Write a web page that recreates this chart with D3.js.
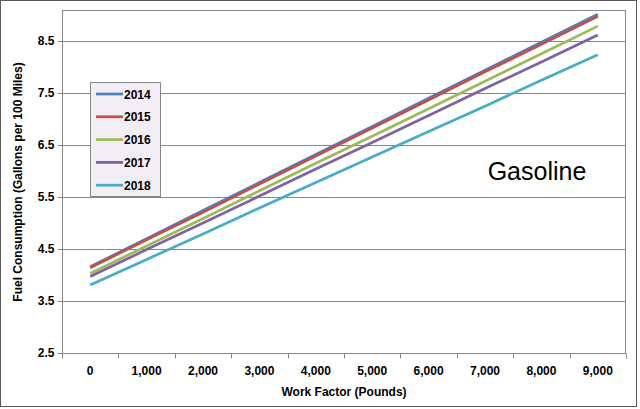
<!DOCTYPE html>
<html><head><meta charset="utf-8">
<script src="https://cdn.jsdelivr.net/npm/d3@7"></script>
<style>body{margin:0;background:#fff}svg{display:block;font-family:Arial,"Liberation Sans",sans-serif}</style>
</head><body>
<script>
const categories = ["0","1,000","2,000","3,000","4,000","5,000","6,000","7,000","8,000","9,000"];
const seriesNames = ["2014","2015","2016","2017","2018"];
const s2014 = [4.16,4.70,5.24,5.78,6.32,6.86,7.40,7.94,8.48,9.02];
const s2015 = [4.14,4.68,5.21,5.75,6.29,6.83,7.37,7.91,8.44,8.98];
const s2016 = [4.03,4.56,5.09,5.62,6.15,6.67,7.20,7.73,8.26,8.79];
const s2017 = [3.97,4.49,5.00,5.52,6.04,6.55,7.07,7.59,8.10,8.62];
const s2018 = [3.81,4.30,4.79,5.29,5.78,6.27,6.76,7.25,7.75,8.24];
const yTicks = [2.5,3.5,4.5,5.5,6.5,7.5,8.5];
const colors = ["#4F81BD","#C0504D","#9BBB59","#8064A2","#4BACC6"];
const allSeries = [s2014,s2015,s2016,s2017,s2018];

const W=640,H=409;
const svg=d3.select("body").append("svg").attr("width",W).attr("height",H);
svg.append("rect").attr("x",0.5).attr("y",0.5).attr("width",636).attr("height",406)
  .attr("fill","#fff").attr("stroke","#5a5a5a");

const L=62,R=626,T=10,B=353;
const x=d3.scaleBand().domain(categories).range([L,R]).padding(0);
const y=d3.scaleLinear().domain([2.5,9.1]).range([B,T]);

// gridlines
svg.append("g").selectAll("line").data(yTicks).join("line")
  .attr("x1",L).attr("x2",R).attr("y1",d=>Math.round(y(d))+0.5).attr("y2",d=>Math.round(y(d))+0.5)
  .attr("stroke","#868686").attr("stroke-width",1);
// plot border
svg.append("rect").attr("x",L+0.5).attr("y",T+0.5).attr("width",R-L-1).attr("height",B-T)
  .attr("fill","none").attr("stroke","#868686");

// y axis
const yAxis=d3.axisLeft(y).tickValues(yTicks).tickFormat(d3.format(".1f")).tickSize(5).tickPadding(3);
const gy=svg.append("g").attr("transform",`translate(${L+0.5},0)`).call(yAxis);
gy.select(".domain").remove();
gy.selectAll(".tick line").attr("stroke","#868686");
gy.selectAll(".tick").attr("transform",d=>`translate(0,${Math.round(y(d))+0.5})`);
gy.selectAll("text").attr("font-size",12).attr("font-weight","bold").attr("fill","#000")
  .attr("font-family","Arial, 'Liberation Sans', sans-serif");

// x axis: labels centered in bands, ticks at band boundaries
const gx=svg.append("g").attr("transform",`translate(0,${B+0.5})`);
gx.selectAll("line").data(categories.concat(["end"])).join("line")
  .attr("x1",(d,i)=>Math.round(L+i*x.step())+0.5).attr("x2",(d,i)=>Math.round(L+i*x.step())+0.5)
  .attr("y1",0).attr("y2",5).attr("stroke","#868686");
gx.selectAll("text").data(categories).join("text")
  .attr("x",d=>x(d)+x.bandwidth()/2).attr("y",21).attr("text-anchor","middle")
  .attr("font-size",12).attr("font-weight","bold").text(d=>d);

// lines
const line=d3.line().x((d,i)=>x(categories[i])+x.bandwidth()/2).y(d=>y(d));
svg.append("g").selectAll("path").data(allSeries).join("path")
  .attr("d",line).attr("fill","none").attr("stroke",(d,i)=>colors[i]).attr("stroke-width",2.75);

// axis titles
svg.append("text").attr("x",(L+R)/2).attr("y",396).attr("text-anchor","middle")
  .attr("font-size",12).attr("font-weight","bold").text("Work Factor (Pounds)");
svg.append("text").attr("transform","translate(22,182) rotate(-90)").attr("text-anchor","middle")
  .attr("font-size",12).attr("font-weight","bold").text("Fuel Consumption  (Gallons per 100 Miles)");

// Gasoline label
svg.append("text").attr("x",537).attr("y",180).attr("text-anchor","middle")
  .attr("font-size",25).text("Gasoline");

// legend
const lg=svg.append("g");
lg.append("rect").attr("x",90.5).attr("y",82.5).attr("width",70).attr("height",114)
  .attr("fill","#F3EEF6").attr("stroke","#868686");
const rows=lg.selectAll("g").data(seriesNames).join("g")
  .attr("transform",(d,i)=>`translate(0,${94+i*22.8})`);
rows.append("line").attr("x1",96).attr("x2",123).attr("y1",0).attr("y2",0)
  .attr("stroke",(d,i)=>colors[i]).attr("stroke-width",2.75);
rows.append("text").attr("x",124).attr("y",4.5).attr("font-size",12).attr("font-weight","bold").text(d=>d);
</script>
</body></html>
